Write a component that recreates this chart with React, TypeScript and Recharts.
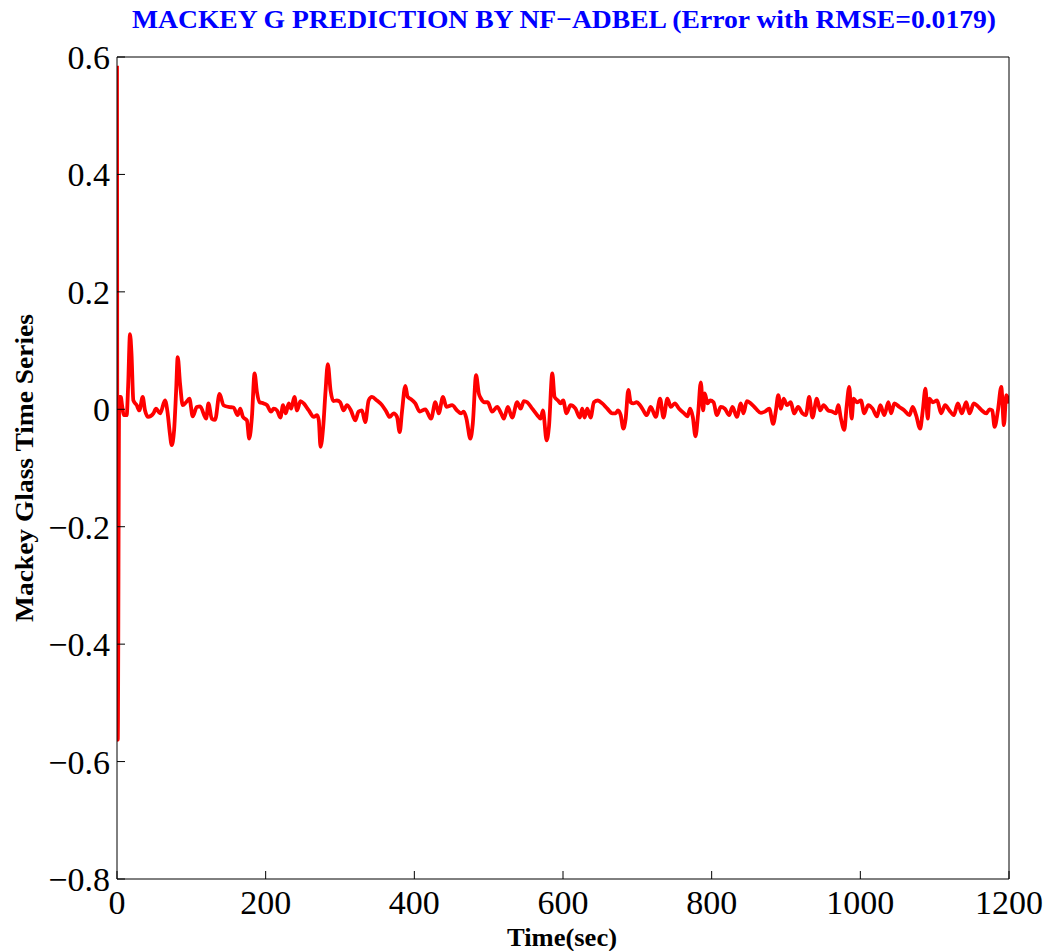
import React from "react";
import { LineChart, Line, XAxis, YAxis } from "recharts";

// Prediction error of the Mackey-Glass series over time
const timeSec: number[] = [
  0, 1, 3, 5, 7, 9, 13, 15, 17.5, 19.5, 22, 26.5, 30, 34.6, 37.7, 42, 49, 52.5, 58, 64.6,
  68.2, 71, 73.6, 76.8, 79.5, 81.7, 84.8, 88.5, 93, 97.4, 101.9, 107.3, 111.8, 119.9, 123, 127.5, 132, 137.9, 143.3, 150,
  156.8, 162.2, 165.8, 169.4, 174.8, 177.9, 181.5, 185.1, 188.3, 191.9, 197.3, 201.8, 207.2, 210.8, 215.3, 219.8, 223.4, 227, 231, 234.2,
  238.7, 242.2, 246.7, 251.2, 258, 264.8, 269.2, 271.5, 273.8, 277.4, 280.5, 283.6, 287.3, 290.9, 295.8, 300.3, 304.8, 309.3, 314.7, 320.5,
  325, 329.5, 334, 338.5, 343, 349.7, 356.5, 362.3, 366.8, 372.2, 376.7, 380.3, 383.4, 387.9, 391.1, 394.6, 401.3, 407.2, 414.8, 422.5,
  428.3, 432.8, 438.6, 443.1, 450.8, 457.5, 462.9, 466.5, 470.1, 475.4, 478.6, 483.1, 486.7, 489.8, 494.3, 498.8, 504.6, 511.4, 516.8, 520.4,
  525.8, 531.6, 538.4, 542.9, 547.4, 551.9, 558.6, 565.4, 569.8, 573, 578, 581.1, 585.6, 588.7, 593.2, 596.8, 600.2, 604.7, 610.1, 616.8,
  622.7, 625.8, 629, 632.6, 637.1, 641.6, 647, 652.8, 659.6, 666.3, 670.8, 674, 677.6, 681.2, 684.3, 687.9, 691, 694.6, 699.1, 703.6,
  708.1, 712.6, 718, 724.8, 730.6, 735.1, 740.5, 745, 750.4, 756.2, 762.9, 767.4, 771, 774.6, 778.2, 781.8, 785.4, 788.5, 790.8, 794.4,
  798, 802.5, 807, 812.3, 817.7, 823.5, 828, 833.9, 839.3, 842.8, 847.3, 852.7, 859.5, 866.2, 871.6, 877.5, 882.8, 886.4, 889.6, 893.2,
  896.8, 901.3, 906.4, 910.9, 916.3, 922.2, 926.7, 931.2, 935.6, 941.5, 946, 950.5, 956.8, 962.6, 967.1, 970.3, 973.9, 978.4, 981.5, 985.1,
  988.3, 991, 995.4, 1000.8, 1005.3, 1010.7, 1016.5, 1022.4, 1026.9, 1032.3, 1037.7, 1041.3, 1045.8, 1052.5, 1059.3, 1066, 1070.5, 1075, 1080.4, 1084,
  1087.6, 1090.7, 1093, 1097.5, 1103.3, 1108.7, 1114.1, 1119.9, 1125.8, 1131.2, 1136.6, 1142.4, 1146.9, 1152.7, 1158.1, 1163.5, 1169.4, 1173.9, 1177.5, 1180.6,
  1185.1, 1189.6, 1193.2, 1196.3, 1200,
];

const errorValues: number[] = [
  0.585, -0.563, 0.021, 0.021, 0.005, -0.01, -0.01, 0.04, 0.128, 0.095, 0.015, 0.007, -0.002, 0.021, -0.002, -0.013, -0.007, 0.001, -0.007, 0.015,
  -0.007, -0.04, -0.061, -0.036, 0.03, 0.089, 0.044, 0.007, 0.012, 0.018, -0.012, 0.004, 0.005, -0.016, 0.01, -0.016, -0.018, 0.026, 0.007, 0.004,
  0.003, -0.01, 0.001, -0.013, -0.019, -0.05, -0.013, 0.061, 0.029, 0.012, 0.01, 0.007, -0.004, 0.001, -0.002, -0.014, 0.007, -0.007, 0.01, 0.001,
  0.021, -0.002, 0.014, 0.01, -0.002, -0.013, -0.01, -0.019, -0.064, -0.03, 0.03, 0.077, 0.032, 0.014, 0.015, 0.012, -0.002, 0.007, -0.002, -0.019,
  -0.004, -0.002, -0.022, 0.015, 0.021, 0.015, 0.007, -0.004, -0.013, -0.007, -0.013, -0.039, -0.004, 0.04, 0.021, 0.018, 0.01, -0.004, 0.0, -0.016,
  0.012, -0.007, 0.021, 0.004, 0.007, -0.002, -0.007, -0.004, -0.016, -0.05, -0.025, 0.058, 0.027, 0.018, 0.012, 0.012, -0.004, 0.004, -0.007, -0.016,
  0.004, -0.014, 0.012, 0.001, 0.014, 0.012, 0.001, -0.01, -0.016, -0.002, -0.053, -0.03, 0.061, 0.021, 0.015, 0.01, 0.015, -0.007, 0.007, 0.001,
  -0.014, 0.001, -0.014, 0.001, -0.014, 0.012, 0.015, 0.01, 0.001, -0.007, -0.007, -0.002, -0.01, -0.033, -0.016, 0.033, 0.012, 0.01, 0.012, 0.007,
  -0.002, -0.01, 0.004, -0.013, 0.018, -0.014, 0.018, 0.004, 0.01, 0.001, -0.007, -0.012, 0.001, -0.013, -0.046, -0.007, 0.046, -0.002, 0.027, 0.01,
  0.015, 0.012, -0.01, 0.004, 0.001, -0.01, 0.004, -0.013, 0.01, -0.007, 0.014, 0.01, 0.001, -0.006, -0.004, 0.001, -0.025, -0.002, 0.024, 0.001,
  0.018, 0.007, 0.012, -0.007, 0.004, -0.007, -0.01, 0.021, -0.014, 0.018, -0.002, 0.007, -0.002, -0.004, -0.007, 0.007, -0.016, -0.035, 0.004, 0.038,
  -0.016, 0.018, 0.012, 0.015, -0.007, 0.007, 0.001, -0.012, 0.007, -0.01, 0.012, -0.007, 0.01, 0.004, -0.002, -0.01, 0.004, -0.01, -0.033, -0.002,
  0.035, -0.016, 0.018, 0.012, 0.015, -0.007, 0.007, -0.002, -0.01, 0.01, -0.007, 0.012, -0.007, 0.01, 0.005, -0.002, -0.007, 0.0, -0.002, -0.03,
  -0.002, 0.038, -0.027, 0.024, 0.01,
];

const xTicks: number[] = [0, 200, 400, 600, 800, 1000, 1200];
const yTicks: number[] = [-0.8, -0.6, -0.4, -0.2, 0, 0.2, 0.4, 0.6];

const chartTitle = "MACKEY G PREDICTION BY NF\u2212ADBEL (Error with RMSE=0.0179)";
const xLabel = "Time(sec)";
const yLabel = "Mackey Glass Time Series";

const series = timeSec.map((t, i) => ({ t, err: errorValues[i] }));

const fmtY = (v: number) =>
  Math.abs(v) < 1e-9 ? "0" : (v < 0 ? "\u2212" : "") + Math.abs(v).toFixed(1);

const serif = "'Liberation Serif', 'Times New Roman', serif";
const tickStyle = { fontFamily: serif, fontSize: 34, fill: "#000" };

export default function App() {
  return (
    <div
      style={{
        position: "absolute",
        left: 0,
        top: 0,
        width: 1052,
        height: 951,
        background: "#fff",
      }}
    >
      <LineChart
        width={1052}
        height={951}
        data={series}
        margin={{ top: 56, right: 42, bottom: 22, left: 17 }}
      >
        <XAxis
          xAxisId="bottom"
          dataKey="t"
          type="number"
          domain={[0, 1200]}
          ticks={xTicks}
          allowDataOverflow
          height={50}
          stroke="#000"
          tickSize={-8}
          tickMargin={19}
          tick={tickStyle}
        />
        <XAxis
          xAxisId="top"
          orientation="top"
          dataKey="t"
          type="number"
          domain={[0, 1200]}
          ticks={xTicks}
          allowDataOverflow
          height={1}
          stroke="#000"
          tickSize={-8}
          tick={false}
        />
        <YAxis
          yAxisId="left"
          type="number"
          domain={[-0.8, 0.6]}
          ticks={yTicks}
          allowDataOverflow
          width={100}
          stroke="#000"
          tickSize={-8}
          tickMargin={15}
          tickFormatter={fmtY}
          tick={tickStyle}
        />
        <YAxis
          yAxisId="right"
          orientation="right"
          type="number"
          domain={[-0.8, 0.6]}
          ticks={yTicks}
          allowDataOverflow
          width={1}
          stroke="#000"
          tickSize={-8}
          tick={false}
        />
        <Line
          xAxisId="bottom"
          yAxisId="left"
          dataKey="err"
          type="monotone"
          stroke="#ff0000"
          strokeWidth={3.8}
          dot={false}
          isAnimationActive={false}
        />
      </LineChart>
      <svg
        width={1052}
        height={951}
        style={{ position: "absolute", left: 0, top: 0, pointerEvents: "none" }}
      >
        <text
          x={564}
          y={28}
          textAnchor="middle"
          fontFamily={serif}
          fontWeight="bold"
          fontSize={26}
          fill="#0000ff"
          textLength={864}
          lengthAdjust="spacingAndGlyphs"
        >
          {chartTitle}
        </text>
        <text
          x={562}
          y={946}
          textAnchor="middle"
          fontFamily={serif}
          fontWeight="bold"
          fontSize={26}
          fill="#000"
          textLength={110}
          lengthAdjust="spacingAndGlyphs"
        >
          {xLabel}
        </text>
        <text
          transform="translate(33,468) rotate(-90)"
          textAnchor="middle"
          fontFamily={serif}
          fontWeight="bold"
          fontSize={25}
          fill="#000"
          textLength={308}
          lengthAdjust="spacingAndGlyphs"
        >
          {yLabel}
        </text>
      </svg>
    </div>
  );
}
